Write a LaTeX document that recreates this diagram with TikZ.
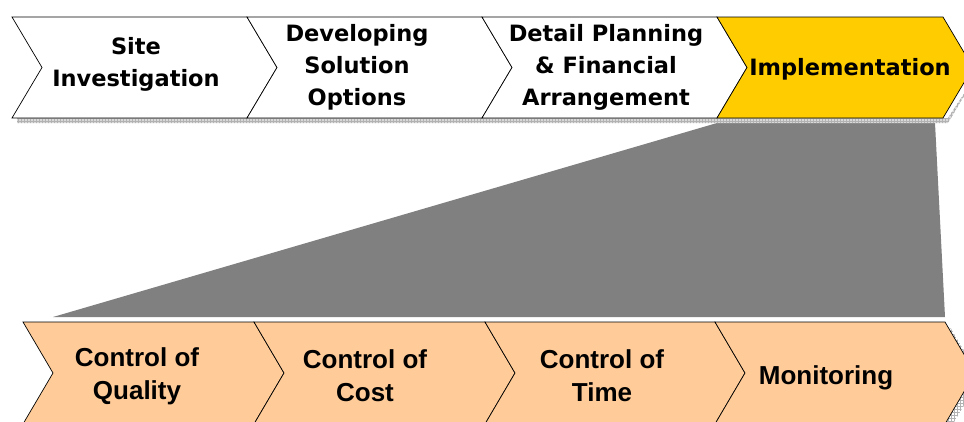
\documentclass[tikz,border=0pt]{standalone}
\usepackage{fontspec}
\setmainfont{Liberation Sans}
\newfontfamily\phasefont{DejaVu Sans}
\usepackage{tikz}
\usetikzlibrary{patterns}
\definecolor{implyellow}{RGB}{255,204,0}
\definecolor{controlpeach}{RGB}{255,204,153}

\begin{document}
\begin{tikzpicture} [x=1pt, y=-1pt,
    chev/.style = {draw=black, line width=0.7pt, line join=miter},
    shade/.style = {fill=gray!30, pattern=grid, pattern color=gray!60},
    phase/.style = {align=center, text=black,
      font=\phasefont\bfseries\fontsize{22.5}{32}\selectfont},
    control/.style = {align=center, text=black,
      font=\bfseries\fontsize{26}{33}\selectfont}]

\useasboundingbox (0,0) rectangle (964,421);

% funnel from Implementation down to its parts
\fill[gray] (717,123) -- (935,123) -- (945,317) -- (53,317) -- cycle;

% shadows
\fill[gray!30] (17,118) -- (948,118) -- (978,72.5) -- (948,123) -- (17,123) -- cycle;
\path[shade] (17,118) -- (948,118) -- (978,72.5) -- (948,123) -- (17,123) -- cycle;
\path[shade] (950,327) -- (980,378) -- (950,429) -- (945,429) -- cycle;

% top row
\foreach \a/\b/\c in {12/247/white, 247/482/white, 482/717/white, 717/943/implyellow}
  \draw[chev, fill=\c] (\a,17) -- (\b,17) -- ({\b+30},67.5) -- (\b,118)
    -- (\a,118) -- ({\a+30},67.5) -- cycle;

% bottom row
\foreach \a/\b in {23/254, 254/485, 485/715, 715/945}
  \draw[chev, fill=controlpeach] (\a,322) -- (\b,322) -- ({\b+30},373) -- (\b,424)
    -- (\a,424) -- ({\a+30},373) -- cycle;

\node (site) at (136,64) [phase] {Site\\Investigation};
\node (develop) at (357,67) [phase] {Developing\\Solution\\Options};
\node (detail) at (606,67) [phase] {Detail Planning\\\& Financial\\Arrangement};
\node (implement) at (850,69) [phase] {Implementation};

\node (quality) at (137,376) [control] {Control of\\Quality};
\node (cost) at (365,376) [control] {Control of\\Cost};
\node (time) at (602,376) [control] {Control of\\Time};
\node (monitor) at (826,378) [control] {Monitoring};

\end{tikzpicture}
\end{document}
